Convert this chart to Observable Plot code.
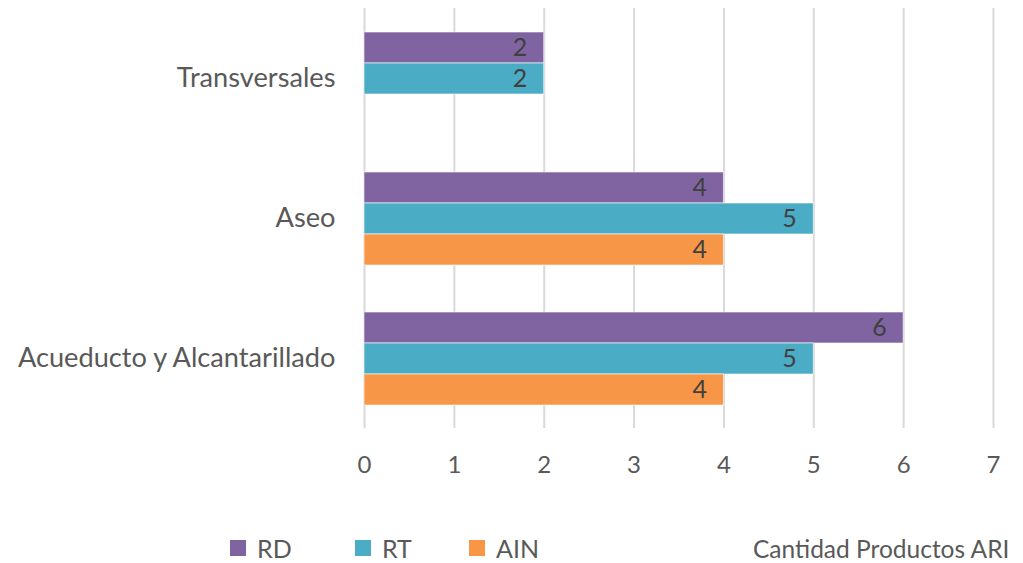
<!DOCTYPE html>
<html>
<head>
<meta charset="utf-8">
<script src="https://cdn.jsdelivr.net/npm/d3@7"></script>
<script src="https://cdn.jsdelivr.net/npm/@observablehq/plot@0.6"></script>
<style>
  html, body { margin: 0; padding: 0; background: #fff; }
  #wrap { position: relative; width: 1023px; height: 563px; font-family: Lato, "Open Sans", sans-serif; color: #595959; }
  #chart svg { display: block; }
  .leg { position: absolute; display: flex; align-items: center; font-size: 25px; line-height: 30px; color: #595959; }
  .sw { width: 16px; height: 16px; margin-right: 11px; }
  #xtitle { position: absolute; left: 753px; top: 534px; font-size: 24.5px; line-height: 29px; color: #595959; white-space: nowrap; }
</style>
</head>
<body>
<div id="wrap">
  <div id="chart"></div>
  <div id="legend"></div>
  <div id="xtitle">Cantidad Productos ARI</div>
</div>
<script>
const categories = ["Transversales", "Aseo", "Acueducto y Alcantarillado"];
const series = ["RD", "RT", "AIN"];
const rdValues = [2, 4, 6];
const rtValues = [2, 5, 5];
const ainValues = [null, 4, 4];
const xTicks = [0, 1, 2, 3, 4, 5, 6, 7];
const colors = ["#8064A2", "#4BACC6", "#F79646"];

const seriesValues = [rdValues, rtValues, ainValues];
const rows = [];
categories.forEach((c, i) => {
  series.forEach((s, j) => {
    const v = seriesValues[j][i];
    if (v != null) rows.push({category: c, series: s, value: v});
  });
});

const chart = Plot.plot({
  width: 1023,
  height: 500,
  marginLeft: 364,
  marginRight: 30,
  marginTop: 8,
  marginBottom: 72,
  style: {fontFamily: "Lato, 'Open Sans', sans-serif", color: "#595959", background: "#fff"},
  x: {domain: [0, 7]},
  y: {domain: series, paddingInner: 0, paddingOuter: 0.758, axis: null},
  fy: {domain: categories, padding: 0, label: null, axis: null},
  color: {domain: series, range: colors},
  marks: [
    Plot.gridX(xTicks, {stroke: "#d9d9d9", strokeWidth: 2, strokeOpacity: 1}),
    Plot.barX(rows, {x: "value", y: "series", fy: "category", fill: "series", stroke: "#fff", strokeWidth: 1, strokeOpacity: 0.6}),
    Plot.text(rows, {x: "value", y: "series", fy: "category", text: d => String(d.value), textAnchor: "end", dx: -17, fill: "#404040", fontSize: 25}),
    Plot.axisX(xTicks, {tickSize: 0, tickPadding: 27, fontSize: 24, label: null, fill: "#595959"}),
    Plot.axisFy({anchor: "left", tickSize: 0, tickPadding: 29, fontSize: 27.2, label: null, fill: "#595959"})
  ]
});
document.getElementById("chart").appendChild(chart);

const legendPos = [230, 355, 469];
const legend = document.getElementById("legend");
series.forEach((s, j) => {
  const item = document.createElement("div");
  item.className = "leg";
  item.style.left = legendPos[j] + "px";
  item.style.top = "533px";
  const sw = document.createElement("div");
  sw.className = "sw";
  sw.style.background = colors[j];
  item.appendChild(sw);
  const t = document.createElement("span");
  t.textContent = s;
  item.appendChild(t);
  legend.appendChild(item);
});
</script>
</body>
</html>
